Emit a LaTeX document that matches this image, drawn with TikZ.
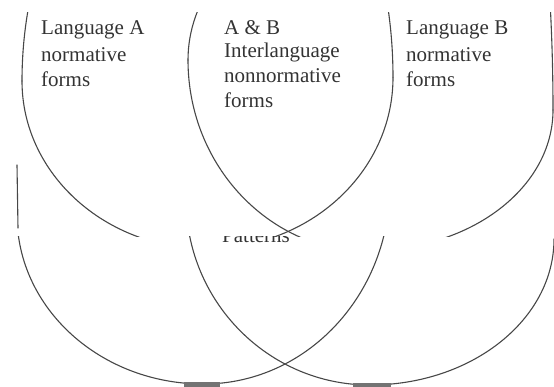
\documentclass[tikz,border=0pt]{standalone}
\usepackage{fontspec}
\setmainfont{Liberation Serif}
\begin{document}
\begin{tikzpicture}[x=1pt,y=-1pt,
  arcline/.style={draw=black!72, line width=1.1pt, line cap=round},
  lbl/.style={anchor=base west, inner sep=0pt, text=black!80, font=\fontsize{21}{24}\selectfont},
  bar/.style={fill=black!55, draw=none}]
\useasboundingbox (0,0) rectangle (554,387);
% ---- upper pair of curves (Language A, Language B)
\begin{scope}
  \clip (0,12.5) rectangle (554,236.5);
  % A, left side
  \draw[arcline] (22,81) arc[start angle=180, end angle=245, x radius=185.5, y radius=280];
  \draw[arcline] (22,81) arc[start angle=180, end angle=90, x radius=185.5, y radius=168];
  % A, right side
  \draw[arcline] (393,77.4) arc[start angle=0, end angle=-65, x radius=185.5, y radius=300];
  \draw[arcline] (393,77.4) arc[start angle=0, end angle=90, x radius=185.5, y radius=171];
  % B, left side
  \draw[arcline] (188,60) arc[start angle=180, end angle=245, x radius=182.5, y radius=153];
  \draw[arcline] (188,60) arc[start angle=180, end angle=90, x radius=182.5, y radius=192];
  % B, right side
  \draw[arcline] (553,110) arc[start angle=0, end angle=-40, x radius=182.5, y radius=600];
  \draw[arcline] (553,110) arc[start angle=0, end angle=90, x radius=182.5, y radius=140];
\end{scope}
% ---- lower pair of curves
\draw[arcline] (17,165) -- (18,228);
\begin{scope}
  \clip (0,237) rectangle (554,387);
  % C
  \draw[arcline] (17,215) arc[start angle=180, end angle=90, x radius=186.5, y radius=169];
  \draw[arcline] (390,185) arc[start angle=0, end angle=90, x radius=186.5, y radius=199];
  % D
  \draw[arcline] (186,199) arc[start angle=180, end angle=90, x radius=184, y radius=186];
  \draw[arcline] (554,239) arc[start angle=0, end angle=90, x radius=184, y radius=146];
\end{scope}
\fill[bar] (184,382) rectangle (220,387);
\fill[bar] (353,383) rectangle (391,387);
% ---- texts
\node[lbl] (la1) at (41,35) {Language A};
\node[lbl] (la2) at (41,62) {normative};
\node[lbl] (la3) at (41,87) {forms};
\node[lbl] (ab1) at (224,35) {A \& B};
\node[lbl] (ab2) at (224,58) {Interlanguage};
\node[lbl] (ab3) at (224,83) {nonnormative};
\node[lbl] (ab4) at (224,108) {forms};
\node[lbl] (lb1) at (406,35) {Language B};
\node[lbl] (lb2) at (406,62) {normative};
\node[lbl] (lb3) at (406,87) {forms};
\begin{scope}
  \clip (200,236.5) rectangle (300,260);
  \node[lbl] (pat) at (222,243) {Patterns};
\end{scope}
\end{tikzpicture}
\end{document}
